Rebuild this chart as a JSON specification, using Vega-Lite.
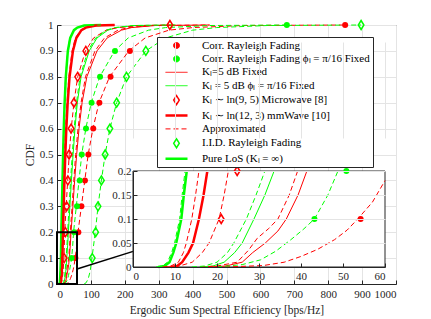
{
 "$schema": "https://vega.github.io/schema/vega-lite/v6.json",
 "width": 339, "height": 259,
 "autosize": {"type": "none"},
 "padding": {"left": 57, "top": 25, "right": 35, "bottom": 35},
 "background": "white",
 "config": {
  "font": "Liberation Serif",
  "view": {"stroke": "#555555", "strokeWidth": 1},
  "axis": {"labelFont": "Liberation Serif", "labelFontSize": 11, "labelColor": "#262626", "titleFont": "Liberation Serif", "titleFontSize": 11.5, "titleFontWeight": "normal", "titleColor": "#262626", "gridColor": "#e4e4e4", "gridOpacity": 1, "domainColor": "#262626", "tickColor": "#262626", "tickSize": -4, "labelPadding": 8}
 },
 "datasets": {
  "curves": [
   {"c":"Pure LoS (Kₗ = ∞)","x":6,"p":0},{"c":"Pure LoS (Kₗ = ∞)","x":7.5,"p":0.002},{"c":"Pure LoS (Kₗ = ∞)","x":8.7,"p":0.01},{"c":"Pure LoS (Kₗ = ∞)","x":9.6,"p":0.03},{"c":"Pure LoS (Kₗ = ∞)","x":10.3,"p":0.05},{"c":"Pure LoS (Kₗ = ∞)","x":11.5,"p":0.1},{"c":"Pure LoS (Kₗ = ∞)","x":12.1,"p":0.15},{"c":"Pure LoS (Kₗ = ∞)","x":12.8,"p":0.2},{"c":"Pure LoS (Kₗ = ∞)","x":14.6,"p":0.3},{"c":"Pure LoS (Kₗ = ∞)","x":16.3,"p":0.4},{"c":"Pure LoS (Kₗ = ∞)","x":18,"p":0.5},{"c":"Pure LoS (Kₗ = ∞)","x":20,"p":0.6},{"c":"Pure LoS (Kₗ = ∞)","x":22.5,"p":0.7},{"c":"Pure LoS (Kₗ = ∞)","x":26,"p":0.8},{"c":"Pure LoS (Kₗ = ∞)","x":32,"p":0.9},{"c":"Pure LoS (Kₗ = ∞)","x":39,"p":0.95},{"c":"Pure LoS (Kₗ = ∞)","x":50,"p":0.98},{"c":"Pure LoS (Kₗ = ∞)","x":60,"p":0.99},{"c":"Pure LoS (Kₗ = ∞)","x":80,"p":0.998},{"c":"Pure LoS (Kₗ = ∞)","x":130,"p":1},
   {"c":"aLoS","x":5.5,"p":0},{"c":"aLoS","x":7,"p":0.002},{"c":"aLoS","x":8.2,"p":0.01},{"c":"aLoS","x":9.2,"p":0.03},{"c":"aLoS","x":9.9,"p":0.05},{"c":"aLoS","x":11.1,"p":0.1},{"c":"aLoS","x":11.7,"p":0.15},{"c":"aLoS","x":12.4,"p":0.2},{"c":"aLoS","x":14.2,"p":0.3},{"c":"aLoS","x":15.9,"p":0.4},{"c":"aLoS","x":17.6,"p":0.5},{"c":"aLoS","x":19.6,"p":0.6},{"c":"aLoS","x":22,"p":0.7},{"c":"aLoS","x":25.5,"p":0.8},{"c":"aLoS","x":31.5,"p":0.9},{"c":"aLoS","x":38,"p":0.95},{"c":"aLoS","x":49,"p":0.98},{"c":"aLoS","x":59,"p":0.99},{"c":"aLoS","x":80,"p":0.998},{"c":"aLoS","x":130,"p":1},
   {"c":"Kₗ ∼ ln(12, 3) mmWave [10]","x":9,"p":0},{"c":"Kₗ ∼ ln(12, 3) mmWave [10]","x":10.5,"p":0.002},{"c":"Kₗ ∼ ln(12, 3) mmWave [10]","x":11.7,"p":0.01},{"c":"Kₗ ∼ ln(12, 3) mmWave [10]","x":13.2,"p":0.03},{"c":"Kₗ ∼ ln(12, 3) mmWave [10]","x":14.3,"p":0.05},{"c":"Kₗ ∼ ln(12, 3) mmWave [10]","x":15.7,"p":0.1},{"c":"Kₗ ∼ ln(12, 3) mmWave [10]","x":16.8,"p":0.15},{"c":"Kₗ ∼ ln(12, 3) mmWave [10]","x":17.7,"p":0.2},{"c":"Kₗ ∼ ln(12, 3) mmWave [10]","x":19.8,"p":0.3},{"c":"Kₗ ∼ ln(12, 3) mmWave [10]","x":22,"p":0.4},{"c":"Kₗ ∼ ln(12, 3) mmWave [10]","x":24.5,"p":0.5},{"c":"Kₗ ∼ ln(12, 3) mmWave [10]","x":27.5,"p":0.6},{"c":"Kₗ ∼ ln(12, 3) mmWave [10]","x":31.5,"p":0.7},{"c":"Kₗ ∼ ln(12, 3) mmWave [10]","x":37,"p":0.8},{"c":"Kₗ ∼ ln(12, 3) mmWave [10]","x":47,"p":0.9},{"c":"Kₗ ∼ ln(12, 3) mmWave [10]","x":57,"p":0.95},{"c":"Kₗ ∼ ln(12, 3) mmWave [10]","x":72,"p":0.98},{"c":"Kₗ ∼ ln(12, 3) mmWave [10]","x":85,"p":0.99},{"c":"Kₗ ∼ ln(12, 3) mmWave [10]","x":115,"p":0.998},{"c":"Kₗ ∼ ln(12, 3) mmWave [10]","x":170,"p":1},
   {"c":"amm","x":7,"p":0},{"c":"amm","x":9,"p":0.002},{"c":"amm","x":10.8,"p":0.01},{"c":"amm","x":12,"p":0.03},{"c":"amm","x":12.7,"p":0.05},{"c":"amm","x":14,"p":0.1},{"c":"amm","x":14.9,"p":0.15},{"c":"amm","x":15.7,"p":0.2},{"c":"amm","x":17.8,"p":0.3},{"c":"amm","x":20,"p":0.4},{"c":"amm","x":22.5,"p":0.5},{"c":"amm","x":25.5,"p":0.6},{"c":"amm","x":29.5,"p":0.7},{"c":"amm","x":35,"p":0.8},{"c":"amm","x":44.5,"p":0.9},{"c":"amm","x":54,"p":0.95},{"c":"amm","x":70,"p":0.98},{"c":"amm","x":83,"p":0.99},{"c":"amm","x":112,"p":0.998},{"c":"amm","x":170,"p":1},
   {"c":"aMicro","x":8,"p":0},{"c":"aMicro","x":11,"p":0.002},{"c":"aMicro","x":14.1,"p":0.01},{"c":"aMicro","x":16.5,"p":0.03},{"c":"aMicro","x":18.1,"p":0.05},{"c":"aMicro","x":20.5,"p":0.1},{"c":"aMicro","x":21.7,"p":0.15},{"c":"aMicro","x":22.7,"p":0.2},{"c":"aMicro","x":27,"p":0.3},{"c":"aMicro","x":31.5,"p":0.4},{"c":"aMicro","x":36,"p":0.5},{"c":"aMicro","x":42,"p":0.6},{"c":"aMicro","x":50,"p":0.7},{"c":"aMicro","x":61,"p":0.8},{"c":"aMicro","x":84,"p":0.9},{"c":"aMicro","x":108,"p":0.95},{"c":"aMicro","x":145,"p":0.98},{"c":"aMicro","x":180,"p":0.99},{"c":"aMicro","x":250,"p":0.998},{"c":"aMicro","x":333,"p":1},
   {"c":"Kₗ = 5 dB ϕₗ = π/16 Fixed","x":16,"p":0},{"c":"Kₗ = 5 dB ϕₗ = π/16 Fixed","x":19,"p":0.002},{"c":"Kₗ = 5 dB ϕₗ = π/16 Fixed","x":21.7,"p":0.01},{"c":"Kₗ = 5 dB ϕₗ = π/16 Fixed","x":24.2,"p":0.03},{"c":"Kₗ = 5 dB ϕₗ = π/16 Fixed","x":26,"p":0.05},{"c":"Kₗ = 5 dB ϕₗ = π/16 Fixed","x":28.8,"p":0.1},{"c":"Kₗ = 5 dB ϕₗ = π/16 Fixed","x":31.4,"p":0.15},{"c":"Kₗ = 5 dB ϕₗ = π/16 Fixed","x":33.6,"p":0.2},{"c":"Kₗ = 5 dB ϕₗ = π/16 Fixed","x":38,"p":0.3},{"c":"Kₗ = 5 dB ϕₗ = π/16 Fixed","x":42.5,"p":0.4},{"c":"Kₗ = 5 dB ϕₗ = π/16 Fixed","x":47.5,"p":0.5},{"c":"Kₗ = 5 dB ϕₗ = π/16 Fixed","x":53,"p":0.6},{"c":"Kₗ = 5 dB ϕₗ = π/16 Fixed","x":60,"p":0.7},{"c":"Kₗ = 5 dB ϕₗ = π/16 Fixed","x":71,"p":0.8},{"c":"Kₗ = 5 dB ϕₗ = π/16 Fixed","x":95,"p":0.9},{"c":"Kₗ = 5 dB ϕₗ = π/16 Fixed","x":118,"p":0.95},{"c":"Kₗ = 5 dB ϕₗ = π/16 Fixed","x":150,"p":0.98},{"c":"Kₗ = 5 dB ϕₗ = π/16 Fixed","x":175,"p":0.99},{"c":"Kₗ = 5 dB ϕₗ = π/16 Fixed","x":230,"p":0.998},{"c":"Kₗ = 5 dB ϕₗ = π/16 Fixed","x":350,"p":1},
   {"c":"aK5F","x":14,"p":0},{"c":"aK5F","x":17,"p":0.002},{"c":"aK5F","x":20,"p":0.01},{"c":"aK5F","x":22.5,"p":0.03},{"c":"aK5F","x":24,"p":0.05},{"c":"aK5F","x":27,"p":0.1},{"c":"aK5F","x":29.3,"p":0.15},{"c":"aK5F","x":31.4,"p":0.2},{"c":"aK5F","x":35.5,"p":0.3},{"c":"aK5F","x":40,"p":0.4},{"c":"aK5F","x":45,"p":0.5},{"c":"aK5F","x":50.5,"p":0.6},{"c":"aK5F","x":57.5,"p":0.7},{"c":"aK5F","x":68,"p":0.8},{"c":"aK5F","x":91,"p":0.9},{"c":"aK5F","x":114,"p":0.95},{"c":"aK5F","x":145,"p":0.98},{"c":"aK5F","x":170,"p":0.99},{"c":"aK5F","x":225,"p":0.998},{"c":"aK5F","x":350,"p":1},
   {"c":"Kₗ=5 dB Fixed","x":18,"p":0},{"c":"Kₗ=5 dB Fixed","x":22,"p":0.002},{"c":"Kₗ=5 dB Fixed","x":26,"p":0.01},{"c":"Kₗ=5 dB Fixed","x":28.5,"p":0.03},{"c":"Kₗ=5 dB Fixed","x":31.5,"p":0.05},{"c":"Kₗ=5 dB Fixed","x":34.5,"p":0.075},{"c":"Kₗ=5 dB Fixed","x":36.5,"p":0.1},{"c":"Kₗ=5 dB Fixed","x":39.3,"p":0.15},{"c":"Kₗ=5 dB Fixed","x":41.4,"p":0.2},{"c":"Kₗ=5 dB Fixed","x":47,"p":0.3},{"c":"Kₗ=5 dB Fixed","x":52,"p":0.4},{"c":"Kₗ=5 dB Fixed","x":58,"p":0.5},{"c":"Kₗ=5 dB Fixed","x":65,"p":0.6},{"c":"Kₗ=5 dB Fixed","x":74,"p":0.7},{"c":"Kₗ=5 dB Fixed","x":88,"p":0.8},{"c":"Kₗ=5 dB Fixed","x":118,"p":0.9},{"c":"Kₗ=5 dB Fixed","x":148,"p":0.95},{"c":"Kₗ=5 dB Fixed","x":190,"p":0.98},{"c":"Kₗ=5 dB Fixed","x":220,"p":0.99},{"c":"Kₗ=5 dB Fixed","x":290,"p":0.998},{"c":"Kₗ=5 dB Fixed","x":450,"p":1},
   {"c":"aK5","x":16,"p":0},{"c":"aK5","x":20,"p":0.002},{"c":"aK5","x":24.8,"p":0.01},{"c":"aK5","x":27.5,"p":0.035},{"c":"aK5","x":29.6,"p":0.06},{"c":"aK5","x":32.3,"p":0.08},{"c":"aK5","x":34.5,"p":0.1},{"c":"aK5","x":37.2,"p":0.15},{"c":"aK5","x":39.2,"p":0.2},{"c":"aK5","x":44.5,"p":0.3},{"c":"aK5","x":49.5,"p":0.4},{"c":"aK5","x":55,"p":0.5},{"c":"aK5","x":62,"p":0.6},{"c":"aK5","x":71,"p":0.7},{"c":"aK5","x":84,"p":0.8},{"c":"aK5","x":112,"p":0.9},{"c":"aK5","x":140,"p":0.95},{"c":"aK5","x":180,"p":0.98},{"c":"aK5","x":210,"p":0.99},{"c":"aK5","x":280,"p":0.998},{"c":"aK5","x":450,"p":1},
   {"c":"aCorr","x":20,"p":0},{"c":"aCorr","x":25,"p":0.001},{"c":"aCorr","x":31,"p":0.003},{"c":"aCorr","x":36,"p":0.01},{"c":"aCorr","x":40,"p":0.022},{"c":"aCorr","x":44,"p":0.037},{"c":"aCorr","x":48,"p":0.057},{"c":"aCorr","x":51,"p":0.077},{"c":"aCorr","x":53.5,"p":0.1},{"c":"aCorr","x":57,"p":0.135},{"c":"aCorr","x":60,"p":0.18},{"c":"aCorr","x":62,"p":0.2},{"c":"aCorr","x":72,"p":0.3},{"c":"aCorr","x":82,"p":0.4},{"c":"aCorr","x":92,"p":0.5},{"c":"aCorr","x":106,"p":0.6},{"c":"aCorr","x":124,"p":0.7},{"c":"aCorr","x":155,"p":0.8},{"c":"aCorr","x":212,"p":0.9},{"c":"aCorr","x":260,"p":0.95},{"c":"aCorr","x":330,"p":0.98},{"c":"aCorr","x":400,"p":0.99},{"c":"aCorr","x":550,"p":0.998},{"c":"aCorr","x":850,"p":1},
   {"c":"aCorrF","x":20,"p":0},{"c":"aCorrF","x":26,"p":0.005},{"c":"aCorrF","x":30.4,"p":0.015},{"c":"aCorrF","x":34,"p":0.033},{"c":"aCorrF","x":37.6,"p":0.057},{"c":"aCorrF","x":40.5,"p":0.078},{"c":"aCorrF","x":43.2,"p":0.1},{"c":"aCorrF","x":46.4,"p":0.15},{"c":"aCorrF","x":48.8,"p":0.2},{"c":"aCorrF","x":57,"p":0.3},{"c":"aCorrF","x":65,"p":0.4},{"c":"aCorrF","x":73,"p":0.5},{"c":"aCorrF","x":85,"p":0.6},{"c":"aCorrF","x":101,"p":0.7},{"c":"aCorrF","x":126,"p":0.8},{"c":"aCorrF","x":170,"p":0.9},{"c":"aCorrF","x":210,"p":0.95},{"c":"aCorrF","x":270,"p":0.98},{"c":"aCorrF","x":320,"p":0.99},{"c":"aCorrF","x":450,"p":0.998},{"c":"aCorrF","x":678,"p":1},
   {"c":"aIID","x":80,"p":0},{"c":"aIID","x":86,"p":0.005},{"c":"aIID","x":92,"p":0.02},{"c":"aIID","x":98,"p":0.05},{"c":"aIID","x":103,"p":0.1},{"c":"aIID","x":113,"p":0.2},{"c":"aIID","x":121,"p":0.3},{"c":"aIID","x":131,"p":0.4},{"c":"aIID","x":142,"p":0.5},{"c":"aIID","x":156,"p":0.6},{"c":"aIID","x":176,"p":0.7},{"c":"aIID","x":205,"p":0.8},{"c":"aIID","x":262,"p":0.9},{"c":"aIID","x":320,"p":0.95},{"c":"aIID","x":400,"p":0.98},{"c":"aIID","x":470,"p":0.99},{"c":"aIID","x":620,"p":0.998},{"c":"aIID","x":897,"p":1}
  ],
  "pts": [
   {"c":"Corr. Rayleigh Fading","x":54.2,"p":0.1},{"c":"Corr. Rayleigh Fading","x":63,"p":0.2},{"c":"Corr. Rayleigh Fading","x":72,"p":0.3},{"c":"Corr. Rayleigh Fading","x":82.5,"p":0.4},{"c":"Corr. Rayleigh Fading","x":92.5,"p":0.5},{"c":"Corr. Rayleigh Fading","x":107,"p":0.6},{"c":"Corr. Rayleigh Fading","x":125,"p":0.7},{"c":"Corr. Rayleigh Fading","x":158,"p":0.8},{"c":"Corr. Rayleigh Fading","x":215,"p":0.9},{"c":"Corr. Rayleigh Fading","x":850,"p":1},
   {"c":"Corr. Rayleigh Fading ϕₗ = π/16 Fixed","x":43.2,"p":0.1},{"c":"Corr. Rayleigh Fading ϕₗ = π/16 Fixed","x":50.8,"p":0.2},{"c":"Corr. Rayleigh Fading ϕₗ = π/16 Fixed","x":59,"p":0.3},{"c":"Corr. Rayleigh Fading ϕₗ = π/16 Fixed","x":67,"p":0.4},{"c":"Corr. Rayleigh Fading ϕₗ = π/16 Fixed","x":73,"p":0.5},{"c":"Corr. Rayleigh Fading ϕₗ = π/16 Fixed","x":85.5,"p":0.6},{"c":"Corr. Rayleigh Fading ϕₗ = π/16 Fixed","x":102,"p":0.7},{"c":"Corr. Rayleigh Fading ϕₗ = π/16 Fixed","x":127,"p":0.8},{"c":"Corr. Rayleigh Fading ϕₗ = π/16 Fixed","x":171,"p":0.9},{"c":"Corr. Rayleigh Fading ϕₗ = π/16 Fixed","x":678,"p":1},
   {"c":"Kₗ ∼ ln(9, 5) Microwave [8]","x":21,"p":0.1},{"c":"Kₗ ∼ ln(9, 5) Microwave [8]","x":24.8,"p":0.2},{"c":"Kₗ ∼ ln(9, 5) Microwave [8]","x":28.5,"p":0.3},{"c":"Kₗ ∼ ln(9, 5) Microwave [8]","x":32,"p":0.4},{"c":"Kₗ ∼ ln(9, 5) Microwave [8]","x":35.5,"p":0.5},{"c":"Kₗ ∼ ln(9, 5) Microwave [8]","x":41.5,"p":0.6},{"c":"Kₗ ∼ ln(9, 5) Microwave [8]","x":50,"p":0.7},{"c":"Kₗ ∼ ln(9, 5) Microwave [8]","x":61,"p":0.8},{"c":"Kₗ ∼ ln(9, 5) Microwave [8]","x":85,"p":0.9},{"c":"Kₗ ∼ ln(9, 5) Microwave [8]","x":333,"p":1},
   {"c":"I.I.D. Rayleigh Fading","x":104,"p":0.1},{"c":"I.I.D. Rayleigh Fading","x":114,"p":0.2},{"c":"I.I.D. Rayleigh Fading","x":121,"p":0.3},{"c":"I.I.D. Rayleigh Fading","x":131,"p":0.4},{"c":"I.I.D. Rayleigh Fading","x":142,"p":0.5},{"c":"I.I.D. Rayleigh Fading","x":156,"p":0.6},{"c":"I.I.D. Rayleigh Fading","x":176,"p":0.7},{"c":"I.I.D. Rayleigh Fading","x":205,"p":0.8},{"c":"I.I.D. Rayleigh Fading","x":262,"p":0.9},{"c":"I.I.D. Rayleigh Fading","x":897,"p":1}
  ],
  "box": [
   {"k":"zoom","x":0,"x2":59,"p":0,"p2":0.2},
   {"k":"link","x":59,"x2":227,"p":0.058,"p2":0.127},
   {"k":"inset","x":0,"x2":60,"p":0,"p2":0.2}
  ]
 },
 "resolve": {"scale": {"x": "independent", "y": "independent"}, "axis": {"x": "independent", "y": "independent"}},
 "layer": [
  {
   "encoding": {
    "x": {"field": "x", "type": "quantitative", "scale": {"domain": [0, 1000], "nice": false, "zero": false},
          "axis": {"orient": "bottom", "title": "Ergodic Sum Spectral Efficiency [bps/Hz]", "values": [0,100,200,300,400,500,600,700,800,900,1000], "format": "d", "grid": true, "titlePadding": 5}},
    "y": {"field": "p", "type": "quantitative", "scale": {"domain": [0, 1], "nice": false, "zero": false},
          "axis": {"orient": "left", "title": "CDF", "values": [0,0.1,0.2,0.3,0.4,0.5,0.6,0.7,0.8,0.9,1], "format": "~g", "grid": true, "titlePadding": 4}}
   },
   "layer": [
    {"data": {"name": "curves"}, "transform": [{"filter": {"field": "c", "oneOf": ["Kₗ=5 dB Fixed", "Kₗ = 5 dB ϕₗ = π/16 Fixed"]}}],
     "mark": {"type": "line", "strokeWidth": 1},
     "encoding": {"color": {"field": "c", "type": "nominal",
       "scale": {"domain": ["Corr. Rayleigh Fading", "Corr. Rayleigh Fading ϕₗ = π/16 Fixed", "Kₗ=5 dB Fixed", "Kₗ = 5 dB ϕₗ = π/16 Fixed", "Kₗ ∼ ln(9, 5) Microwave [8]", "Kₗ ∼ ln(12, 3) mmWave [10]", "Approximated", "I.I.D. Rayleigh Fading", "Pure LoS (Kₗ = ∞)"],
                 "range": ["#ff0000", "#00ff00", "#ff0000", "#00ff00", "#ff0000", "#ff0000", "#ff0000", "#00ff00", "#00ff00"]},
       "legend": {"orient": "none", "legendX": 100, "legendY": 12, "title": null,
         "labelFont": "Liberation Serif", "labelFontSize": 11, "labelColor": "black", "labelLimit": 320,
         "fillColor": "white", "strokeColor": "#262626", "padding": 3, "rowPadding": 1.4,
         "symbolSize": 64, "symbolOffset": 11, "labelOffset": 20, "symbolStrokeWidth": 1,
         "encode": {"symbols": {"update": {
           "shape": {"signal": "datum.index <= 1 ? 'circle' : (datum.index == 4 || datum.index == 7 ? 'M0,-1L0.62,0L0,1L-0.62,0Z' : 'stroke')"},
           "size": {"signal": "datum.index <= 1 ? 36 : (datum.index == 4 || datum.index == 7 ? 81 : 484)"},
           "fillOpacity": {"signal": "datum.index <= 1 ? 1 : 0"},
           "strokeWidth": {"signal": "datum.index == 5 || datum.index == 8 ? 2.5 : (datum.index == 4 || datum.index == 7 ? 1.5 : 1)"},
           "strokeDash": {"signal": "datum.index == 6 ? [5, 3] : [1, 0]"},
           "opacity": {"value": 1}
         }}}
       }}}
    },
    {"data": {"name": "curves"}, "transform": [{"filter": {"field": "c", "oneOf": ["Kₗ ∼ ln(12, 3) mmWave [10]", "Pure LoS (Kₗ = ∞)"]}}],
     "mark": {"type": "line", "strokeWidth": 2.5},
     "encoding": {"color": {"field": "c", "type": "nominal"}}},
    {"data": {"name": "curves"}, "transform": [{"filter": {"field": "c", "oneOf": ["aCorr", "aMicro", "aK5", "amm"]}}],
     "mark": {"type": "line", "strokeWidth": 1, "strokeDash": [5, 3]},
     "encoding": {"color": {"datum": "Approximated", "type": "nominal"}, "detail": {"field": "c"}}},
    {"data": {"name": "curves"}, "transform": [{"filter": {"field": "c", "oneOf": ["aCorrF", "aIID", "aK5F", "aLoS"]}}],
     "mark": {"type": "line", "strokeWidth": 1, "strokeDash": [5, 3], "color": "#00ff00"},
     "encoding": {"detail": {"field": "c"}}},
    {"data": {"name": "pts"}, "transform": [{"filter": {"field": "c", "oneOf": ["Corr. Rayleigh Fading", "Corr. Rayleigh Fading ϕₗ = π/16 Fixed"]}}],
     "mark": {"type": "point", "shape": "circle", "filled": true, "size": 36, "opacity": 1},
     "encoding": {"color": {"field": "c", "type": "nominal"}}},
    {"data": {"name": "pts"}, "transform": [{"filter": {"field": "c", "oneOf": ["Kₗ ∼ ln(9, 5) Microwave [8]", "I.I.D. Rayleigh Fading"]}}],
     "mark": {"type": "point", "shape": "M0,-1L0.62,0L0,1L-0.62,0Z", "filled": false, "size": 81, "strokeWidth": 1.5, "opacity": 1},
     "encoding": {"color": {"field": "c", "type": "nominal"}}},
    {"data": {"name": "box"}, "transform": [{"filter": "datum.k == 'zoom'"}],
     "mark": {"type": "rect", "fillOpacity": 0, "stroke": "black", "strokeWidth": 2},
     "encoding": {"x2": {"field": "x2"}, "y2": {"field": "p2"}}},
    {"data": {"name": "box"}, "transform": [{"filter": "datum.k == 'link'"}],
     "mark": {"type": "rule", "color": "black", "strokeWidth": 1.5},
     "encoding": {"x2": {"field": "x2"}, "y2": {"field": "p2"}}}
   ]
  },
  {
   "encoding": {
    "x": {"field": "x", "type": "quantitative", "scale": {"domain": [0, 60], "range": [76, 328], "nice": false, "zero": false},
          "axis": {"orient": "bottom", "offset": -17, "title": null, "values": [0,10,20,30,40,50,60], "grid": true, "zindex": 1, "labelPadding": 7}},
    "y": {"field": "p", "type": "quantitative", "scale": {"domain": [0, 0.2], "range": [242, 146], "nice": false, "zero": false},
          "axis": {"orient": "left", "offset": -76, "title": null, "values": [0,0.05,0.1,0.15,0.2], "format": "~g", "grid": true, "zindex": 1, "labelPadding": 6}}
   },
   "layer": [
    {"data": {"name": "box"}, "transform": [{"filter": "datum.k == 'inset'"}],
     "mark": {"type": "rect", "fill": "white", "stroke": "#262626", "strokeWidth": 1},
     "encoding": {"x2": {"field": "x2"}, "y2": {"field": "p2"}}},
    {"data": {"name": "curves"}, "transform": [{"filter": {"field": "c", "oneOf": ["Kₗ=5 dB Fixed", "Kₗ = 5 dB ϕₗ = π/16 Fixed"]}}, {"filter": "datum.x <= 60 && datum.p <= 0.2"}],
     "mark": {"type": "line", "strokeWidth": 1},
     "encoding": {"color": {"field": "c", "type": "nominal"}}},
    {"data": {"name": "curves"}, "transform": [{"filter": {"field": "c", "oneOf": ["Kₗ ∼ ln(12, 3) mmWave [10]", "Pure LoS (Kₗ = ∞)"]}}, {"filter": "datum.x <= 60 && datum.p <= 0.2"}],
     "mark": {"type": "line", "strokeWidth": 2.5},
     "encoding": {"color": {"field": "c", "type": "nominal"}}},
    {"data": {"name": "curves"}, "transform": [{"filter": {"field": "c", "oneOf": ["aCorr", "aMicro", "aK5", "amm"]}}, {"filter": "datum.x <= 60 && datum.p <= 0.2"}],
     "mark": {"type": "line", "strokeWidth": 1, "strokeDash": [5, 3]},
     "encoding": {"color": {"datum": "Approximated", "type": "nominal"}, "detail": {"field": "c"}}},
    {"data": {"name": "curves"}, "transform": [{"filter": {"field": "c", "oneOf": ["aCorrF", "aIID", "aK5F", "aLoS"]}}, {"filter": "datum.x <= 60 && datum.p <= 0.2"}],
     "mark": {"type": "line", "strokeWidth": 1, "strokeDash": [5, 3], "color": "#00ff00"},
     "encoding": {"detail": {"field": "c"}}},
    {"data": {"name": "pts"}, "transform": [{"filter": {"field": "c", "oneOf": ["Corr. Rayleigh Fading", "Corr. Rayleigh Fading ϕₗ = π/16 Fixed"]}}, {"filter": "datum.x <= 60 && datum.p <= 0.2"}],
     "mark": {"type": "point", "shape": "circle", "filled": true, "size": 36, "opacity": 1},
     "encoding": {"color": {"field": "c", "type": "nominal"}}},
    {"data": {"name": "pts"}, "transform": [{"filter": {"field": "c", "oneOf": ["Kₗ ∼ ln(9, 5) Microwave [8]", "I.I.D. Rayleigh Fading"]}}, {"filter": "datum.x <= 60 && datum.p <= 0.2"}],
     "mark": {"type": "point", "shape": "M0,-1L0.62,0L0,1L-0.62,0Z", "filled": false, "size": 81, "strokeWidth": 1.5, "opacity": 1},
     "encoding": {"color": {"field": "c", "type": "nominal"}}}
   ]
  }
 ]
}
